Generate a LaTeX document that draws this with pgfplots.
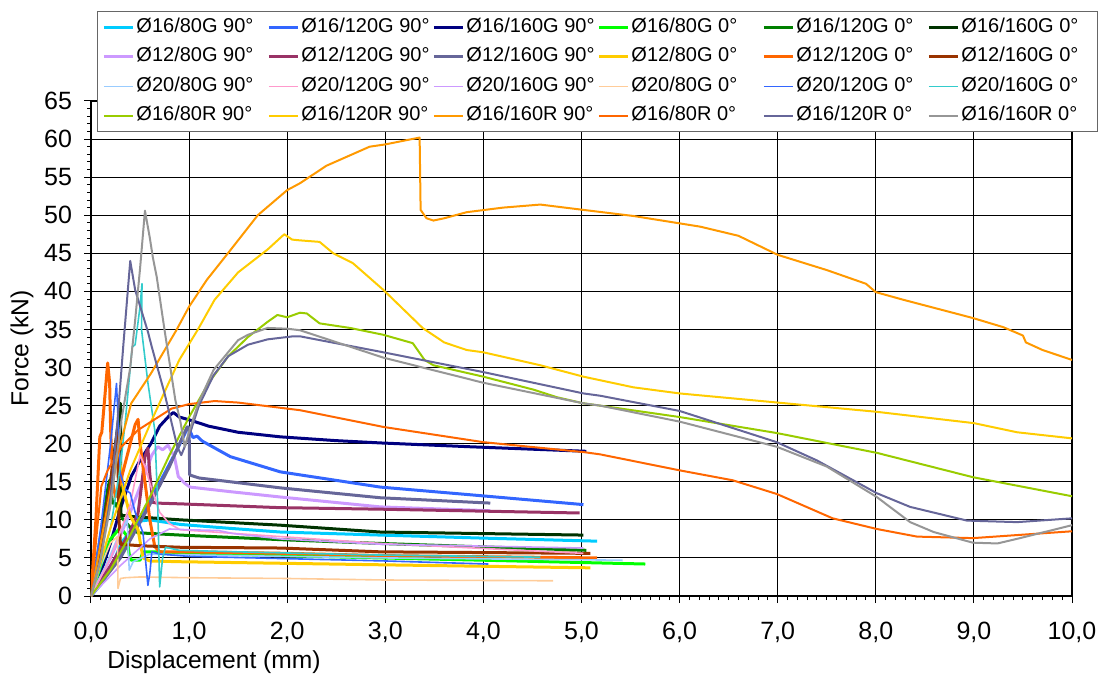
\documentclass[border=0pt]{standalone}
\usepackage{fontspec}
\setmainfont{Liberation Sans}
\usepackage{pgfplots}
\pgfplotsset{compat=1.18}

\definecolor{cA}{HTML}{00CCFF}
\definecolor{cB}{HTML}{3366FF}
\definecolor{cC}{HTML}{000080}
\definecolor{cD}{HTML}{00FF00}
\definecolor{cE}{HTML}{008000}
\definecolor{cF}{HTML}{003300}
\definecolor{cG}{HTML}{CC99FF}
\definecolor{cH}{HTML}{993366}
\definecolor{cI}{HTML}{666699}
\definecolor{cJ}{HTML}{FFCC00}
\definecolor{cK}{HTML}{FF6600}
\definecolor{cL}{HTML}{993300}
\definecolor{cM}{HTML}{99CCFF}
\definecolor{cN}{HTML}{FF99CC}
\definecolor{cO}{HTML}{CC99FF}
\definecolor{cP}{HTML}{FFCC99}
\definecolor{cQ}{HTML}{3366FF}
\definecolor{cR}{HTML}{33CCCC}
\definecolor{cS}{HTML}{99CC00}
\definecolor{cT}{HTML}{FFCC00}
\definecolor{cU}{HTML}{FF9900}
\definecolor{cV}{HTML}{FF6600}
\definecolor{cW}{HTML}{666699}
\definecolor{cX}{HTML}{969696}

\newcommand{\lgd}[1]{\makebox[64.5pt][l]{#1}}

\begin{document}
\begin{tikzpicture}
\useasboundingbox (-45.5pt,-42.5pt) rectangle (503.5pt,298pt);
\begin{axis}[
    width=490.5pt, height=247.5pt, scale only axis,
    xmin=0, xmax=10, ymin=0, ymax=65,
    xtick={0,1,...,10}, ytick={0,5,...,65},
    minor x tick num=9, minor y tick num=4,
    tick align=outside, xtick pos=bottom, ytick pos=left,
    major tick length=3.5pt, minor tick length=2pt,
    grid=major, major grid style={black, line width=0.5pt},
    axis line style={black, line width=0.6pt},
    tick style={black, line width=0.5pt},
    /pgf/number format/assume math mode=true,
    xticklabel style={yshift=-6pt, /pgf/number format/.cd, fixed, fixed zerofill, precision=1, use comma},
    yticklabel style={xshift=-2.5pt},
    ticklabel style={font=\fontsize{12.5}{14}\selectfont},
    label style={font=\fontsize{12.3}{14}\selectfont},
    xlabel={Displacement (mm)}, ylabel={Force (kN)},
    xlabel style={at={(axis description cs:0.1254,-0.1333)}, anchor=center},
    ylabel style={at={(axis description cs:-0.0703,0.5)}, anchor=center},
    legend columns=6,
    legend style={at={(axis description cs:0.0061,1.1818)}, anchor=north west,
        draw=black!60, line width=0.5pt, fill=white,
        font=\fontsize{10}{11}\selectfont,
        inner xsep=2.5pt, inner ysep=3pt, row sep=4.7pt, column sep=0pt,
        nodes={inner xsep=1pt, inner ysep=0pt, text height=7.5pt, text depth=2.5pt}},
    legend image code/.code={\draw[#1] (0pt,0pt) -- (14.5pt,0pt);},
    every axis plot/.append style={no markers, line join=round},
]
% Ø16 G 90
\addplot[cA, line width=1.5pt] coordinates {(0,0)(0.1,1.5)(0.2,3.5)(0.31,7)(0.48,9.8)(0.6,10)(0.75,9.7)(0.91,9.4)(1.4,8.9)(1.93,8.4)(2.95,8.0)(4.0,7.6)(5.16,7.2)};
\addlegendentry{\lgd{Ø16/80G 90°}}
\addplot[cB, line width=1.5pt] coordinates {(0,0)(0.2,3.5)(0.4,8)(0.6,12.5)(0.75,16.1)(0.9,19.8)(0.99,22.2)(1.04,20.8)(1.08,21.0)(1.12,20.5)(1.14,20.3)(1.42,18.3)(1.93,16.3)(2.95,14.3)(3.86,13.3)(5.02,12.0)};
\addlegendentry{\lgd{Ø16/120G 90°}}
\addplot[cC, line width=1.5pt] coordinates {(0,0)(0.1,3)(0.2,7)(0.3,11.5)(0.41,15.7)(0.5,17.8)(0.61,20.0)(0.7,22.3)(0.8,23.7)(0.84,24.1)(0.9,23.5)(1.01,23.1)(1.2,22.3)(1.5,21.5)(1.93,20.9)(2.5,20.4)(2.95,20.1)(3.86,19.6)(5.05,19.0)};
\addlegendentry{\lgd{Ø16/160G 90°}}
% Ø16 G 0
\addplot[cD, line width=1.5pt] coordinates {(0,0)(0.1,4)(0.2,7.5)(0.3,9)(0.36,8)(0.39,5.5)(0.41,4.7)(0.5,4.7)(0.53,5.8)(0.7,5.8)(0.91,5.6)(2.95,5.0)(4.0,4.7)(5.65,4.2)};
\addlegendentry{\lgd{Ø16/80G 0°}}
\addplot[cE, line width=1.5pt] coordinates {(0,0)(0.1,8)(0.17,14)(0.19,15.2)(0.22,12.2)(0.25,12.2)(0.3,10.5)(0.4,9)(0.48,8.3)(0.91,8.0)(1.93,7.4)(2.95,6.9)(5.05,6.0)};
\addlegendentry{\lgd{Ø16/120G 0°}}
\addplot[cF, line width=1.5pt] coordinates {(0,0)(0.1,7)(0.2,15)(0.28,23)(0.30,25.3)(0.303,15)(0.306,10.6)(0.45,10.4)(0.91,10.0)(1.93,9.3)(2.95,8.4)(5.02,8.0)};
\addlegendentry{\lgd{Ø16/160G 0°}}
% Ø12 G 90
\addplot[cG, line width=1.5pt] coordinates {(0,0)(0.2,5)(0.4,11)(0.55,16)(0.62,18.5)(0.68,19.6)(0.73,19.2)(0.785,19.8)(0.85,18.3)(0.89,15.7)(0.955,14.8)(1.01,14.3)(1.42,13.7)(1.93,13.0)(2.95,11.7)(4.07,11.2)};
\addlegendentry{\lgd{Ø12/80G 90°}}
\addplot[cH, line width=1.5pt] coordinates {(0,0)(0.2,4)(0.4,8.5)(0.48,10.9)(0.52,15)(0.55,18.3)(0.58,19.4)(0.6,16)(0.63,12.3)(0.67,12.2)(0.91,12.1)(1.93,11.6)(2.95,11.4)(4.98,10.9)};
\addlegendentry{\lgd{Ø12/120G 90°}}
\addplot[cI, line width=1.5pt] coordinates {(0,0)(0.3,5)(0.6,12)(0.8,17)(0.92,20.5)(0.98,22.2)(1.0,22.0)(1.006,15.9)(1.1,15.5)(1.42,15.0)(1.93,14.2)(2.95,12.9)(4.07,12.2)};
\addlegendentry{\lgd{Ø12/160G 90°}}
% Ø12 G 0
\addplot[cJ, line width=1.5pt] coordinates {(0,0)(0.1,7)(0.2,14)(0.28,19)(0.33,14)(0.4,10.5)(0.48,8.7)(0.53,5)(0.6,4.6)(0.91,4.5)(2.95,4.1)(5.09,3.7)};
\addlegendentry{\lgd{Ø12/80G 0°}}
\addplot[cK, line width=1.5pt] coordinates {(0,0)(0.05,10)(0.09,20.9)(0.11,21.5)(0.14,26)(0.17,30.6)(0.19,28)(0.2,22)(0.22,15)(0.25,13)(0.3,15)(0.38,19)(0.45,22.5)(0.48,23.2)(0.5,20)(0.55,15)(0.6,10)(0.65,6.5)(0.7,5.8)(1.0,5.8)(2.0,5.6)(3.0,5.3)(5.16,5.0)};
\addlegendentry{\lgd{Ø12/120G 0°}}
\addplot[cL, line width=1.5pt] coordinates {(0,0)(0.1,7)(0.2,15)(0.27,21.6)(0.285,10)(0.3,6.8)(0.5,6.6)(0.91,6.4)(1.93,6.3)(2.95,5.8)(5.09,5.6)};
\addlegendentry{\lgd{Ø12/160G 0°}}
% Ø20 G 90
\addplot[cM, line width=0.8pt] coordinates {(0,0)(0.15,4)(0.3,8.5)(0.37,10)(0.38,6)(0.39,3.4)(0.43,4.5)(0.6,5.5)(1.0,5.4)(3.0,5.0)(5.42,4.7)};
\addlegendentry{\lgd{Ø20/80G 90°}}
\addplot[cN, line width=0.8pt] coordinates {(0,0)(0.2,5)(0.4,12)(0.5,18.5)(0.55,17)(0.6,14.8)(0.7,11)(0.8,9.5)(0.91,8.7)(1.93,7.8)(2.95,6.9)(5.02,5.6)};
\addlegendentry{\lgd{Ø20/120G 90°}}
\addplot[cO, line width=0.8pt] coordinates {(0,0)(0.3,4)(0.6,7.5)(0.8,8.8)(1.0,8.7)(1.3,8.6)(1.45,8.2)(1.93,7.5)(2.95,6.8)(5.02,6.3)};
\addlegendentry{\lgd{Ø20/160G 90°}}
% Ø20 G 0
\addplot[cP, line width=0.8pt] coordinates {(0,0)(0.1,4)(0.2,7)(0.27,7.8)(0.275,1.0)(0.30,2.3)(0.35,2.4)(0.5,2.5)(1.0,2.4)(2.0,2.3)(3.0,2.1)(4.71,2.0)};
\addlegendentry{\lgd{Ø20/80G 0°}}
\addplot[cQ, line width=0.8pt] coordinates {(0,0)(0.1,9)(0.2,20)(0.26,27.9)(0.28,22)(0.3,16)(0.35,14)(0.4,13.5)(0.45,11)(0.53,8.3)(0.58,1.4)(0.6,3)(0.62,5.8)(0.7,5.5)(1.0,5.2)(2.0,4.9)(3.0,4.6)(4.05,4.2)};
\addlegendentry{\lgd{Ø20/120G 0°}}
\addplot[cR, line width=0.8pt] coordinates {(0,0)(0.1,4)(0.2,9)(0.3,17)(0.35,23)(0.42,32.7)(0.45,33)(0.5,38)(0.52,41)(0.515,35)(0.58,28)(0.65,21.8)(0.68,12)(0.70,1.2)(0.73,5)(0.76,6.4)(0.9,6)(1.5,5.8)(2.84,5.4)(4.58,5.1)};
\addlegendentry{\lgd{Ø20/160G 0°}}
% Ø16 R 90
\addplot[cS, line width=1pt] coordinates {(0,0)(0.2,3.5)(0.4,8)(0.6,13)(0.8,18.5)(1.0,23.5)(1.2,28)(1.4,31.5)(1.6,34)(1.8,36)(1.9,36.9)(2.0,36.6)(2.13,37.2)(2.2,37.1)(2.33,35.8)(2.64,35.2)(2.98,34.3)(3.28,33.2)(3.40,31.0)(3.49,30.3)(4.0,28.8)(4.51,27.1)(4.75,26.1)(5.02,25.3)(5.19,25.0)(6.0,23.5)(6.99,21.4)(8.01,18.8)(8.99,15.6)(10,13.1)};
\addlegendentry{\lgd{Ø16/80R 90°}}
\addplot[cT, line width=1pt] coordinates {(0,0)(0.2,9)(0.4,16.5)(0.62,23.1)(0.75,26.8)(0.9,31)(1.09,35)(1.26,38.9)(1.5,42.5)(1.8,45.5)(1.97,47.5)(2.05,46.8)(2.13,46.7)(2.33,46.5)(2.47,45)(2.67,43.7)(2.98,40.2)(3.38,35.2)(3.6,33.3)(3.83,32.3)(4.0,32.0)(4.58,30.3)(5.02,28.8)(5.53,27.4)(6.0,26.6)(7.0,25.4)(8.0,24.2)(9.0,22.7)(9.44,21.5)(10,20.7)};
\addlegendentry{\lgd{Ø16/120R 90°}}
\addplot[cU, line width=1pt] coordinates {(0,0)(0.1,7)(0.2,14)(0.3,20)(0.41,25.3)(0.61,29.2)(0.87,34.9)(1.0,38)(1.18,41.5)(1.42,45.4)(1.7,50)(2.0,53.3)(2.13,54.2)(2.4,56.5)(2.84,59)(3.0,59.3)(3.35,60.2)(3.36,50.7)(3.42,49.6)(3.49,49.3)(3.6,49.6)(3.83,50.4)(4.2,51)(4.58,51.4)(5.02,50.7)(5.53,49.9)(6.21,48.5)(6.6,47.3)(7.0,44.8)(7.5,42.8)(7.9,41)(8.0,39.9)(8.28,38.9)(8.99,36.5)(9.30,35.3)(9.50,34.2)(9.53,33.3)(9.7,32.3)(10,31.0)};
\addlegendentry{\lgd{Ø16/160R 90°}}
% Ø16 R 0
\addplot[cV, line width=1pt] coordinates {(0,0)(0.05,7)(0.105,14.4)(0.17,16.5)(0.31,19.6)(0.48,21.8)(0.82,24.6)(1.0,25.2)(1.26,25.6)(1.5,25.4)(2.13,24.4)(2.98,22.2)(4.0,20.2)(5.02,18.9)(5.19,18.6)(6.0,16.5)(6.54,15.2)(6.99,13.4)(7.56,10.2)(8.01,8.8)(8.42,7.8)(8.99,7.6)(10,8.5)};
\addlegendentry{\lgd{Ø16/80R 0°}}
\addplot[cW, line width=1pt] coordinates {(0,0)(0.1,5)(0.2,13)(0.27,23)(0.33,33)(0.40,44)(0.45,40.2)(0.58,34.7)(0.62,32.7)(0.75,26.6)(0.88,19.6)(0.92,18.5)(1.0,21)(1.1,25)(1.25,29)(1.4,31.5)(1.6,33)(1.8,33.7)(2.06,34.1)(2.13,34.1)(2.98,32.0)(4.0,29.4)(5.02,26.6)(5.19,26.3)(6.0,24.3)(6.99,20.2)(7.4,17.8)(8.01,13.5)(8.35,11.7)(8.93,9.9)(9.44,9.7)(10,10.2)};
\addlegendentry{\lgd{Ø16/120R 0°}}
\addplot[cX, line width=1pt] coordinates {(0,0)(0.1,5)(0.2,12)(0.31,23.1)(0.4,30)(0.45,36.2)(0.5,43)(0.55,50.6)(0.6,47)(0.63,44.5)(0.67,41.9)(0.75,34.9)(0.86,25.7)(0.91,23)(0.955,19.6)(1.01,22)(1.1,25.5)(1.25,29.7)(1.5,33.6)(1.6,34.3)(1.8,35.2)(2.0,35.1)(2.13,34.9)(2.98,31.3)(4.0,28.0)(5.02,25.3)(5.19,25.0)(6.0,22.9)(6.99,19.6)(7.5,17.0)(8.01,13.0)(8.35,9.7)(8.59,8.4)(8.99,7.0)(9.24,6.9)(9.47,7.6)(10,9.3)};
\addlegendentry{\lgd{Ø16/160R 0°}}
\end{axis}
\end{tikzpicture}
\end{document}
